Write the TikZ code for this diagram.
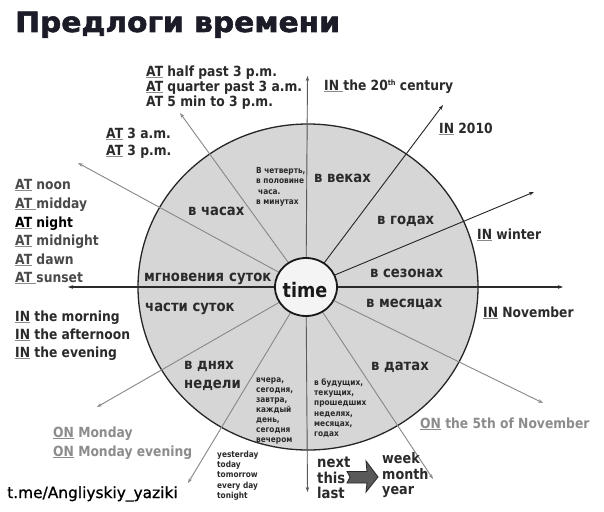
\documentclass[tikz,border=0pt]{standalone}
\usepackage{fontspec}
\setmainfont{DejaVu Sans}[FakeStretch=0.88]
\newfontfamily\plainfont{DejaVu Sans}[FakeBold=1]
\newfontfamily\titlefont{DejaVu Sans}[FakeStretch=1.06,FakeBold=2]
\usetikzlibrary{arrows.meta,shapes.geometric}
\definecolor{circfill}{HTML}{D6D6D6}
\definecolor{hubfill}{HTML}{F4F4F4}
\definecolor{titlecol}{HTML}{1C1C28}
\definecolor{ulgray}{HTML}{8A8A8A}
\definecolor{txtdark}{HTML}{2A2A2A}
\definecolor{txtmid}{HTML}{4A4A4A}
\definecolor{txtlight}{HTML}{8C8C8C}
\definecolor{lndark}{HTML}{2A2A2A}
\definecolor{lnmid}{HTML}{5A5A5A}
\definecolor{lnlight}{HTML}{8A8A8A}
\newcommand\fsz[1]{\fontsize{#1}{#1}\selectfont}
\newcommand\ulx[1]{\leavevmode\setbox0\hbox{#1}\rlap{\textcolor{ulgray}{\rule[-2.4pt]{\wd0}{1.5pt}}}\box0\relax}
\tikzset{
  lbl/.style={anchor=base west, inner sep=0pt, font=\bfseries\fsz{14}, text=txtdark},
  sect/.style={anchor=base west, inner sep=0pt, font=\bfseries\fsz{15}, text=txtdark},
  small/.style={anchor=base west, inner sep=0pt, font=\bfseries\fsz{8.4}, text=txtdark},
  big/.style={anchor=base west, inner sep=0pt, font=\bfseries\fsz{15}, text=txtdark},
  spoke/.style={-{Stealth[length=5pt,width=3.5pt]}, line width=0.9pt},
}
\begin{document}
\begin{tikzpicture}[x=1pt,y=-1pt]
\useasboundingbox (0,0) rectangle (604,511);
\fill[white] (0,0) rectangle (604,511);
% title
\node[anchor=base west, inner sep=0pt, font=\titlefont\bfseries\fsz{28}, text=titlecol] (title) at (15,32) {Предлоги времени};
% big disc
\filldraw[fill=circfill, draw=black!85, line width=1.3pt] (308,287) ellipse [x radius=170, y radius=163];
% tips
\coordinate (t1) at (307.5,76);
\coordinate (t2) at (443,105);
\coordinate (t3) at (534,192);
\coordinate (t4) at (563,287);
\coordinate (t5) at (543,403);
\coordinate (t6) at (433,479);
\coordinate (t7) at (307.5,492);
\coordinate (t8) at (188,483);
\coordinate (t9) at (97,407);
\coordinate (t10) at (68,287);
\coordinate (t11) at (78,163);
\coordinate (t12) at (180,113);
% hub
\node[ellipse, minimum width=62pt, minimum height=58pt, inner sep=0pt] (hub) at (306,287) {};
\draw[spoke, draw=lnmid, fill=lnmid] (hub) -- (t1);
\draw[spoke, draw=lndark, fill=lndark] (hub) -- (t2);
\draw[spoke, draw=lndark, fill=lndark] (hub) -- (t3);
\draw[spoke, draw=lndark, fill=lndark, line width=1.3pt] (hub) -- (t4);
\draw[spoke, draw=lnlight, fill=lnlight] (hub) -- (t5);
\draw[spoke, draw=lnlight, fill=lnlight] (hub) -- (t6);
\draw[spoke, draw=lnmid, fill=lnmid] (hub) -- (t7);
\draw[spoke, draw=lnlight, fill=lnlight] (hub) -- (t8);
\draw[spoke, draw=lnlight, fill=lnlight] (hub) -- (t9);
\draw[spoke, draw=lndark, fill=lndark, line width=1.3pt] (hub) -- (t10);
\draw[spoke, draw=lnlight, fill=lnlight] (hub) -- (t11);
\draw[spoke, draw=lnlight, fill=lnlight] (hub) -- (t12);
\filldraw[fill=hubfill, draw=black!90, line width=1.8pt] (hub.center) ellipse [x radius=31, y radius=29];
\node[anchor=base, inner sep=0pt, font=\bfseries\fsz{20}, text=black!90] (timetext) at (305,297) {time};
% top labels
\node[lbl, text=txtdark] (a1) at (146,76) {\ulx{AT} half past 3 p.m.};
\node[lbl, text=txtdark] (a2) at (146,91) {\ulx{AT} quarter past 3 a.m.};
\node[lbl, text=txtdark] (a3) at (146,106) {AT 5 min to 3 p.m.};
\node[lbl, text=txtdark] (a4) at (106,138) {\ulx{AT} 3 a.m.};
\node[lbl, text=txtdark] (a5) at (106,155) {\ulx{AT} 3 p.m.};
% right labels
\node[lbl] (r1) at (324,90) {\ulx{IN }the 20\raisebox{4.5pt}{\fsz{7.5}th} century};
\node[lbl] (r2) at (439,133) {\ulx{IN} 2010};
\node[lbl] (r3) at (477,239) {\ulx{IN} winter};
\node[lbl] (r4) at (483,317) {\ulx{IN} November};
\node[lbl, text=txtlight] (r5) at (420,428) {\ulx{ON} the 5th of November};
% left labels
\node[lbl, text=txtmid] (l1) at (15,189) {\ulx{AT} noon};
\node[lbl, text=txtmid] (l2) at (15,208) {\ulx{AT }midday};
\node[lbl, text=black] (l3) at (15,227) {\ulx{AT} night};
\node[lbl, text=txtmid] (l4) at (15,245) {\ulx{AT} midnight};
\node[lbl, text=txtmid] (l5) at (15,264) {\ulx{AT} dawn};
\node[lbl, text=txtmid] (l6) at (15,282) {\ulx{AT }sunset};
\node[lbl] (m1) at (15,321) {\ulx{IN} the morning};
\node[lbl] (m2) at (15,339) {\ulx{IN} the afternoon};
\node[lbl] (m3) at (15,357) {\ulx{IN} the evening};
\node[lbl, text=txtlight] (o1) at (53,437) {\ulx{ON} Monday};
\node[lbl, text=txtlight] (o2) at (53,456) {\ulx{ON} Monday evening};
\node[anchor=base west, inner sep=0pt, font=\plainfont\fsz{15.4}, text=black] (tme) at (7,498) {t.me/Angliyskiy\_yaziki};
% sector labels
\node[sect] (s1) at (314,182) {в веках};
\node[sect] (s2) at (377,224) {в годах};
\node[sect] (s3) at (370,277) {в сезонах};
\node[sect] (s4) at (366,307) {в месяцах};
\node[sect] (s5) at (371,370) {в датах};
\node[sect] (s6) at (184,369) {в днях};
\node[sect] (s7) at (184,388) {недели};
\node[sect] (s8) at (145,311) {части суток};
\node[sect] (s9) at (144,281) {мгновения\hspace{5pt}суток};
\node[sect] (s10) at (188,215) {в часах};
% small texts
\foreach \s [count=\i from 0] in {{В четверть,},{в половине},{\hspace{2pt}часа.},{в минутах}}
  \node[small] (q\i) at (256,173.5+10.3*\i) {\s};
\foreach \s [count=\i from 0] in {{вчера,},{сегодня,},{завтра,},{каждый},{день,},{сегодня},{вечером}}
  \node[small] (v\i) at (256,382.5+10*\i) {\s};
\foreach \s [count=\i from 0] in {{в будущих,},{текущих,},{прошедших},{неделях,},{месяцах,},{годах}}
  \node[small] (b\i) at (314,385.5+10.2*\i) {\s};
\foreach \s [count=\i from 0] in {yesterday,today,tomorrow,every day,tonight}
  \node[small] (y\i) at (217,457.5+10.2*\i) {\s};
% next this last
\node[big] (n1) at (317,467) {next};
\node[big] (n2) at (317,483) {this};
\node[big] (n3) at (317,498) {last};
\node[big, font=\bfseries\fsz{14.5}] (w1) at (382,463) {week};
\node[big, font=\bfseries\fsz{14.5}] (w2) at (382,479) {month};
\node[big, font=\bfseries\fsz{14.5}] (w3) at (382,494) {year};
% block arrow
\filldraw[fill=black!65, draw=black!85, line width=0.8pt, line join=miter]
  (347,471.5) -- (367,471.5) -- (366,461) -- (378,477) -- (366,492) -- (367,483) -- (347,483) -- (350,477) -- cycle;
\end{tikzpicture}
\end{document}
